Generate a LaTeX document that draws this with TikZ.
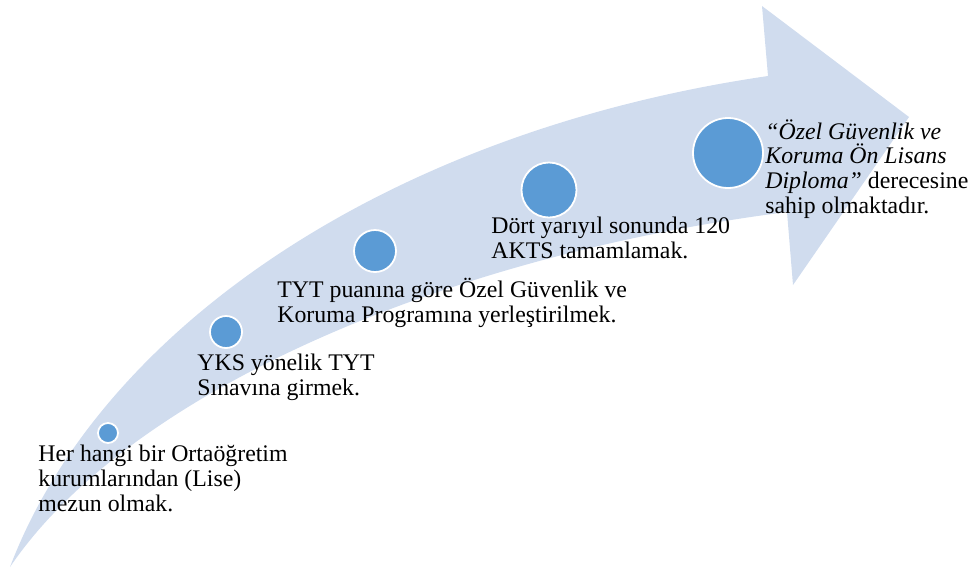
\documentclass[tikz,border=0pt]{standalone}
\usepackage{fontspec}
\setmainfont{Liberation Serif}
\usetikzlibrary{positioning}
\definecolor{bandblue}{RGB}{208,220,238}
\definecolor{dotblue}{RGB}{91,155,213}

\begin{document}
\begin{tikzpicture}[x=0.5pt, y=-0.5pt,
  stepdot/.style={circle, fill=dotblue, draw=white, line width=0.9pt, inner sep=0pt, minimum size=#1},
  steptext/.style={anchor=base west, align=left, inner sep=0pt, font=\fontsize{11.9}{12.3}\selectfont}]
  \useasboundingbox (0,0) rectangle (973,569);
  \fill[bandblue] (10,567) .. controls (100,330) and (385,132) .. (768,76)
    -- (762,6) -- (909,117) -- (793,285) -- (787,212)
    .. controls (450,255) and (130,390) .. (10,567) -- cycle;
  \foreach \n/\px/\py/\d in {1/108/433/10pt, 2/226/332/16pt, 3/375/251/21pt,
                             4/549/190/27.5pt, 5/728/153/35pt}
    \node[stepdot=\d] (dot\n) at (\px,\py) {};
  \node[steptext] (txt1) at (38,511) {Her hangi bir Ortaöğretim\\kurumlarından (Lise)\\mezun olmak.};
  \node[steptext] (txt2) at (197,395) {YKS yönelik TYT\\Sınavına girmek.};
  \node[steptext] (txt3) at (277,322) {TYT puanına göre Özel Güvenlik ve\\Koruma Programına yerleştirilmek.};
  \node[steptext] (txt4) at (491,258) {Dört yarıyıl sonunda 120\\AKTS tamamlamak.};
  \node[steptext] (txt5) at (765,213) {\textit{“Özel Güvenlik ve}\\\textit{Koruma Ön Lisans}\\\textit{Diploma”} derecesine\\sahip olmaktadır.};
\end{tikzpicture}
\end{document}
